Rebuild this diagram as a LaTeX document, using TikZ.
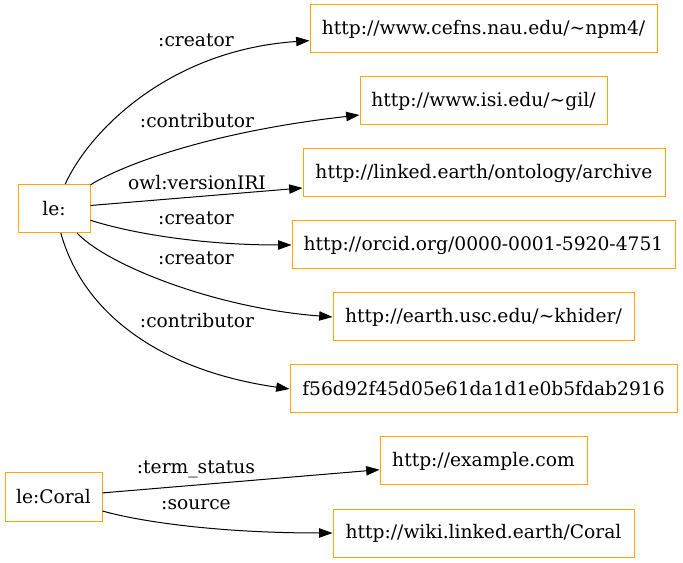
\documentclass[tikz,border=0pt]{standalone}
\usepackage{fontspec}
\setmainfont{DejaVu Serif}
\usepackage{tikz}
\usetikzlibrary{arrows.meta, positioning, calc}
\definecolor{boxorange}{HTML}{FFA500}

\begin{document}
\begin{tikzpicture}[
  x=0.75pt, y=-0.75pt,
  res/.style={rectangle, draw=boxorange, line width=0.75pt, minimum height=36pt,
              inner xsep=2pt, align=center, font=\fontsize{14}{16}\selectfont},
  rel/.style={line width=0.75pt, -{Triangle[length=10pt, width=7pt]}},
  lbl/.style={font=\fontsize{14}{16}\selectfont, inner sep=0pt},
]
\useasboundingbox (0,0) rectangle (683,563);

% ---- nodes ----
\node[res, minimum width=54pt]     (le)      at (54,208.5)  {le:};
\node[res, minimum width=260.25pt] (npm)     at (483.5,29)  {http://www.cefns.nau.edu/\textasciitilde npm4/};
\node[res, minimum width=185.25pt] (gil)     at (483.5,101) {http://www.isi.edu/\textasciitilde gil/};
\node[res, minimum width=271.5pt]  (archive) at (484,173)   {http://linked.earth/ontology/archive};
\node[res, minimum width=287.25pt] (orcid)   at (483.5,245) {http://orcid.org/0000-0001-5920-4751};
\node[res, minimum width=225.75pt] (khider)  at (483.5,317) {http://earth.usc.edu/\textasciitilde khider/};
\node[res, minimum width=290.25pt] (hash)    at (483.5,389) {f56d92f45d05e61da1d1e0b5fdab2916};

\node[res, minimum width=72.75pt]  (coral)   at (53.5,497)  {le:Coral};
\node[res, minimum width=155.25pt] (example) at (483.5,461) {http://example.com};
\node[res, minimum width=225.75pt] (wiki)    at (483.5,533) {http://wiki.linked.earth/Coral};

% ---- edges ----
\draw[rel] (le) .. controls (90,130) and (170,50) .. (npm)
  node[lbl] at (196,40) {:creator};
\draw[rel] (le) .. controls (115,169) and (200,133) .. (gil)
  node[lbl] at (197,121) {:contributor};
\draw[rel] (le) -- (archive)
  node[lbl] at (197,183) {owl:versionIRI};
\draw[rel] (le) .. controls (130,233) and (200,245) .. (orcid)
  node[lbl] at (196,218) {:creator};
\draw[rel] (le) .. controls (107,265) and (215,308) .. (khider.west)
  node[lbl] at (196,258) {:creator};
\draw[rel] (le) .. controls (85,320) and (170,372) .. (hash.west)
  node[lbl] at (197,321) {:contributor};

\draw[rel] (coral) -- (example)
  node[lbl] at (196,469) {:term\_status};
\draw[rel] (coral) .. controls (141,522) and (220,533) .. (wiki)
  node[lbl] at (196,505) {:source};

\end{tikzpicture}
\end{document}
